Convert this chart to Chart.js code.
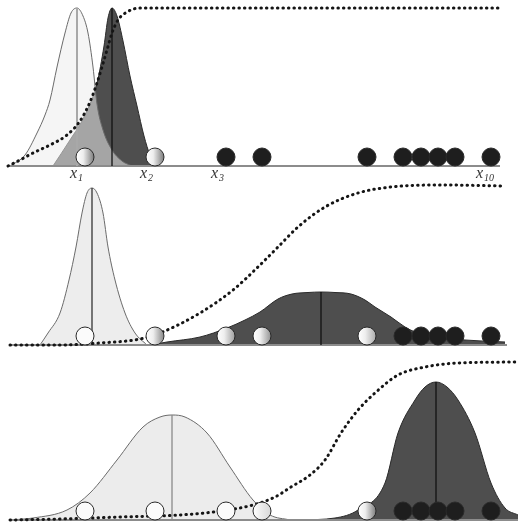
<!DOCTYPE html>
<html>
<head>
<meta charset="utf-8">
<script src="https://cdn.jsdelivr.net/npm/chart.js@4/dist/chart.umd.min.js"></script>
<style>
  body { margin: 0; background: #fff; }
  canvas { display: block; }
</style>
</head>
<body>
<canvas id="emChart" width="518" height="530"></canvas>
<script>
// points along the line, x = position, y = height above the panel baseline
const ballX = [85, 155, 226, 262, 367, 403, 421, 438, 455, 491];
// how dark each ball is (0 = white, 1 = black) in each of the three panels
const shade1 = [0.55, 0.55, 1, 1, 1, 1, 1, 1, 1, 1];
const shade2 = [0, 0.5, 0.4, 0.45, 0.35, 1, 1, 1, 1, 1];
const shade3 = [0, 0, 0, 0.15, 0.55, 1, 1, 1, 1, 1];

const labelText = ['1', '2', '3', '10'];
const labelBall = [0, 1, 2, 9];

// panel 1
const light1 = [[10,0],[25,11],[37,33],[45,51],[50,66],[57,99],[65,133],[71,153],[77,158],[83,150],[88,133],[93,99],[97,62],[103,36],[112,16],[122,5],[132,0]];
const dark1 = [[53,0],[70,26],[85,51],[97,83],[104,120],[108,148],[112,158],[117,150],[123,125],[130,90],[137,60],[144,30],[150,11],[157,0]];
const sigmoid1 = [[8,0],[20,6],[33,13],[50,21],[67,31],[80,45],[90,64],[97,83],[102,99],[107,116],[112,133],[118,146],[127,154],[140,158],[200,158],[498,158]];
const means1 = [77, 112];
const peaks1 = [158, 158];

// panel 2
const light2 = [[40,0],[48,12],[60,32],[69,65],[76,98],[82,132],[87,152],[92,157],[97,152],[103,132],[108,98],[115,65],[125,32],[135,12],[147,0]];
const dark2 = [[150,0],[167,3],[200,8],[227,17],[245,25],[260,33],[278,46],[292,51],[308,52.5],[321,53],[335,52.5],[351,51],[365,45],[375,38],[391,28],[405,18],[415,13],[430,9],[465,5],[505,3]];
const sigmoid2 = [[10,0],[60,0],[100,2],[140,6],[160,12],[200,32],[233,55],[260,80],[278,98],[298,118],[325,138],[358,152],[391,158],[441,160],[505,159]];
const means2 = [92, 321];
const peaks2 = [157, 53];

// panel 3
const light3 = [[10,0],[33,2],[67,10],[90,27],[117,60],[143,93],[160,103],[172,105],[185,103],[207,87],[230,53],[253,20],[270,5],[290,0]];
const dark3 = [[300,0],[335,2],[358,10],[385,37],[398,87],[415,120],[425,133],[436,138],[447,133],[458,120],[475,87],[491,37],[505,12],[518,5]];
const sigmoid3 = [[10,0],[60,1],[120,3],[180,5],[213,8],[253,15],[275,23],[291,33],[310,45],[325,60],[341,87],[358,110],[375,127],[398,145],[425,153],[458,157],[518,158]];
const means3 = [172, 436];
const peaks3 = [105, 138];

const baseEnds = [[8, 500], [10, 507], [10, 518]];

// layout: pixel row of each baseline on the canvas
const panelBase = [166, 345, 520];
const H = 530, W = 518, R = 9;

const pts = arr => arr.map(([x, y]) => ({ x: x, y: y }));

function ballColor(shades) {
  return function (ctx) {
    const i = ctx.dataIndex;
    if (i === undefined) return '#fff';
    const p = shades[i];
    if (p >= 1) return '#1e1e1e';
    if (p <= 0) return '#fbfbfb';
    const cx = ctx.chart.scales.x ? ctx.chart.scales.x.getPixelForValue(ballX[i]) : NaN;
    if (!isFinite(cx)) return '#e6e6e6';
    const g = ctx.chart.ctx.createLinearGradient(cx - R, 0, cx + R, 0);
    const c = Math.round(250 - p * 230);
    g.addColorStop(0, '#ffffff');
    g.addColorStop(0.4, '#eeeeee');
    g.addColorStop(1, 'rgb(' + c + ',' + c + ',' + c + ')');
    return g;
  };
}

function panel(k, light, dark, sigmoid, means, peaks, shades, lightFill) {
  const y = 'y' + k;
  const line = { showLine: true, pointRadius: 0, yAxisID: y, clip: false };
  return [
    Object.assign({}, line, {
      data: ballX.map(x => ({ x: x, y: R })), showLine: false, order: 0,
      pointRadius: R, pointBorderWidth: 1, pointBorderColor: '#2a2a2a',
      pointBackgroundColor: ballColor(shades)
    }),
    Object.assign({}, line, {
      data: pts(sigmoid), order: 1, borderColor: '#151515', borderWidth: 3,
      borderDash: [0.5, 5], borderCapStyle: 'round', cubicInterpolationMode: 'monotone'
    }),
    Object.assign({}, line, {
      data: [{ x: means[0], y: 0 }, { x: means[0], y: peaks[0] }], order: 2,
      borderColor: k === 1 ? '#a8a8a8' : (k === 2 ? '#333' : '#8a8a8a'), borderWidth: k === 1 ? 2 : 1.3
    }),
    Object.assign({}, line, {
      data: [{ x: means[1], y: 0 }, { x: means[1], y: peaks[1] }], order: 2,
      borderColor: '#111', borderWidth: 1.3
    }),
    Object.assign({}, line, {
      data: [{ x: baseEnds[k - 1][0], y: 0 }, { x: baseEnds[k - 1][1], y: 0 }], order: 3,
      borderColor: '#8c8c8c', borderWidth: 2
    }),
    Object.assign({}, line, {
      data: pts(light), order: 4, fill: 'origin', backgroundColor: lightFill,
      borderColor: '#6a6a6a', borderWidth: 1, cubicInterpolationMode: 'monotone'
    }),
    Object.assign({}, line, {
      data: pts(dark), order: 5, fill: 'origin', backgroundColor: '#4e4e4e',
      borderColor: '#2a2a2a', borderWidth: 1, cubicInterpolationMode: 'monotone'
    })
  ];
}

const labelPlugin = {
  id: 'xLabels',
  afterDatasetsDraw(chart) {
    const c = chart.ctx;
    const xs = chart.scales.x, ys = chart.scales.y1;
    c.save();
    c.fillStyle = '#333';
    c.textBaseline = 'alphabetic';
    labelText.forEach((t, j) => {
      const px = xs.getPixelForValue(ballX[labelBall[j]]) - 15;
      const py = ys.getPixelForValue(-12);
      c.font = "italic 16px 'Liberation Serif', serif";
      c.fillText('x', px, py);
      const w = c.measureText('x').width;
      c.font = "italic 10px 'Liberation Serif', serif";
      c.fillText(t, px + w + 1, py + 3);
    });
    c.restore();
  }
};

const scales = { x: { type: 'linear', min: 0, max: W, display: false } };
panelBase.forEach((b, i) => {
  scales['y' + (i + 1)] = { type: 'linear', min: b - H, max: b, display: false };
});

new Chart(document.getElementById('emChart'), {
  type: 'scatter',
  data: {
    datasets: [].concat(
      panel(1, light1, dark1, sigmoid1, means1, peaks1, shade1, 'rgba(236,236,236,0.55)'),
      panel(2, light2, dark2, sigmoid2, means2, peaks2, shade2, '#ededed'),
      panel(3, light3, dark3, sigmoid3, means3, peaks3, shade3, '#ececec')
    )
  },
  options: {
    responsive: false,
    animation: false,
    events: [],
    layout: { padding: 0, autoPadding: false },
    plugins: { legend: { display: false }, tooltip: { enabled: false } },
    scales: scales
  },
  plugins: [labelPlugin]
});
</script>
</body>
</html>
